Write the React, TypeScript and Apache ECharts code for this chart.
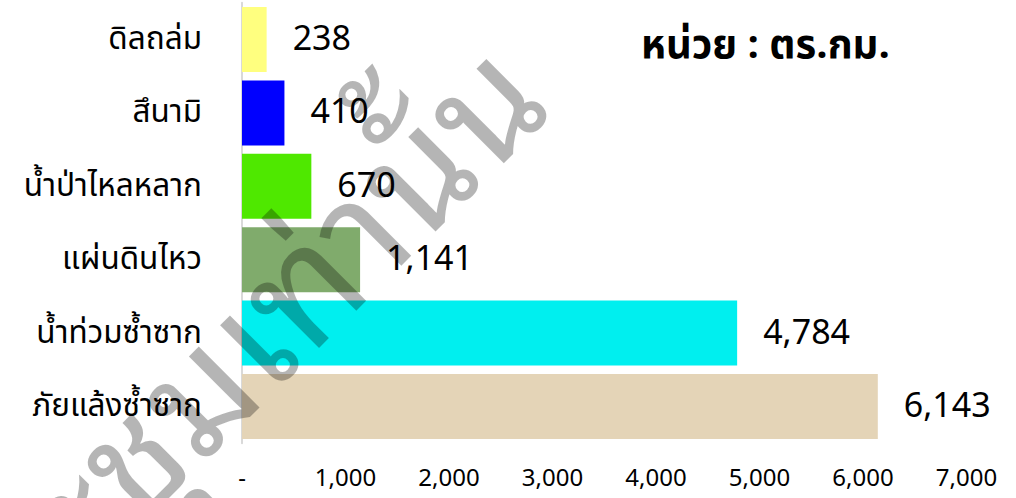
import React, { useEffect, useRef } from "react";
import * as echarts from "echarts";

const categories = ["ดิลถล่ม", "สึนามิ", "น้ำป่าไหลหลาก", "แผ่นดินไหว", "น้ำท่วมซ้ำซาก", "ภัยแล้งซ้ำซาก"];
const values = [238, 410, 670, 1141, 4784, 6143];
const barColors = ["#FFFF7F", "#0000FF", "#4FE800", "#80AB6C", "#00EFEF", "#E4D4B7"];
const axisMax = 7000;
const axisStep = 1000;
const unitText = "หน่วย : ตร.กม.";
const watermarkText = "ใช้ในที่ประชุมเท่านั้น";

const fmt = (v: number) => (v === 0 ? "-" : v.toLocaleString("en-US"));

export default function App() {
  const ref = useRef<HTMLDivElement>(null);
  useEffect(() => {
    if (!ref.current) return;
    const chart = echarts.init(ref.current, undefined, { renderer: "svg" });
    const font = "'Noto Sans Thai', 'Noto Sans', sans-serif";
    chart.setOption({
      animation: false,
      backgroundColor: "#ffffff",
      grid: { left: 242, right: 49.5, top: 2.8, bottom: 54.8, containLabel: false },
      xAxis: {
        type: "value",
        min: 0,
        max: axisMax,
        interval: axisStep,
        axisLine: { show: false },
        axisTick: { show: false },
        splitLine: { show: false },
        axisLabel: {
          formatter: (v: number) => fmt(v),
          fontSize: 24,
          color: "#000",
          fontFamily: font,
          margin: 24,
        },
      },
      yAxis: {
        type: "category",
        inverse: true,
        data: categories,
        axisLine: { show: true, lineStyle: { color: "#D9D9D9", width: 2 } },
        axisTick: { show: false },
        axisLabel: { fontSize: 31.5, color: "#000", fontFamily: font, margin: 40 },
      },
      series: [
        {
          type: "bar",
          barCategoryGap: "11.5%",
          data: values.map((v, i) => ({ value: v, itemStyle: { color: barColors[i] } })),
          label: {
            show: true,
            position: "right",
            distance: 26,
            fontSize: 34,
            color: "#000",
            fontFamily: font,
            formatter: (p: any) => fmt(p.value),
          },
        },
      ],
      graphic: [
        {
          type: "text",
          left: 641,
          top: 26,
          style: { text: unitText, fontSize: 40, fontWeight: "bold", fill: "#000", fontFamily: font },
        },
        {
          type: "text",
          x: 508,
          y: 60,
          rotation: Math.PI / 4,
          z: 100,
          silent: true,
          style: {
            text: watermarkText,
            fontSize: 155,
            fill: "rgba(0,0,0,0.29)",
            align: "right",
            verticalAlign: "middle",
            fontFamily: "'Noto Sans Thai Looped', 'Noto Sans Thai', sans-serif",
          },
        },
      ],
    });
    return () => chart.dispose();
  }, []);
  return <div ref={ref} style={{ position: "fixed", left: 0, top: 0, width: 1016, height: 498 }} />;
}
